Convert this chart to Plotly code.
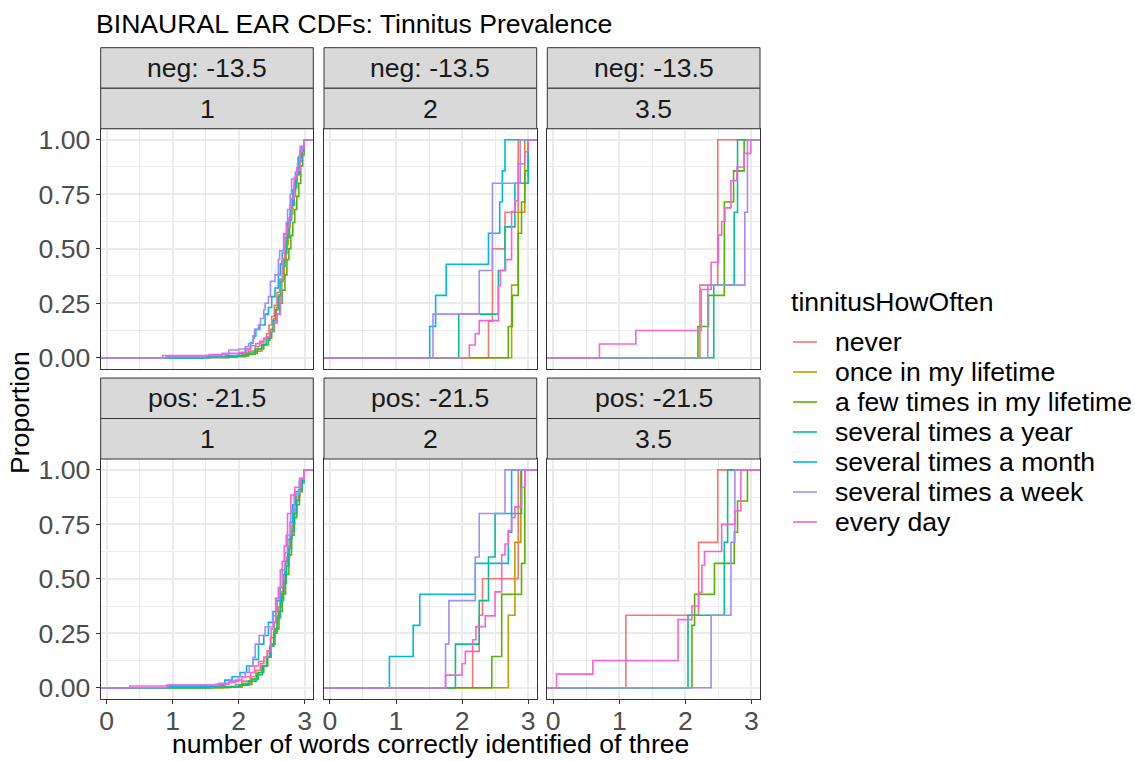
import plotly.graph_objects as go

W, H = 1135, 761
FONT = "Liberation Sans, Arial, sans-serif"
FS = 26.6

# ---------------- data ----------------
groups = ["never", "once in my lifetime", "a few times in my lifetime",
          "several times a year", "several times a month",
          "several times a week", "every day"]
colors = ["#F8766D", "#C49A00", "#53B400", "#00C094", "#00B6EB", "#A58AFF", "#FB61D7"]

row_labels = ["neg: -13.5", "pos: -21.5"]
col_labels = ["1", "2", "3.5"]
x_ticks = [0, 1, 2, 3]
y_ticks = [0, 0.25, 0.5, 0.75, 1.0]
y_tick_text = ["0.00", "0.25", "0.50", "0.75", "1.00"]

# ECDF step positions (x) and cumulative proportions (p)
# ---- neg: -13.5 / 1 ----
neg1_never_x = [1.55, 1.90, 2.05, 2.15, 2.25, 2.32, 2.38, 2.42, 2.46, 2.50, 2.54, 2.58, 2.62, 2.66, 2.70, 2.73, 2.76, 2.80, 2.84, 2.88, 2.92, 2.96, 2.99]
neg1_never_p = [0.003, 0.008, 0.015, 0.03, 0.05, 0.07, 0.09, 0.11, 0.15, 0.19, 0.24, 0.30, 0.36, 0.44, 0.50, 0.57, 0.64, 0.72, 0.80, 0.87, 0.93, 0.97, 1.0]
neg1_once_x = [1.85, 2.10, 2.25, 2.35, 2.42, 2.48, 2.53, 2.57, 2.61, 2.65, 2.69, 2.72, 2.75, 2.78, 2.82, 2.86, 2.89, 2.93, 2.96, 2.99]
neg1_once_p = [0.005, 0.015, 0.03, 0.06, 0.09, 0.13, 0.18, 0.23, 0.29, 0.36, 0.45, 0.52, 0.60, 0.66, 0.74, 0.82, 0.86, 0.92, 0.95, 1.0]
neg1_few_x = [1.50, 1.95, 2.15, 2.28, 2.38, 2.45, 2.50, 2.54, 2.58, 2.62, 2.66, 2.70, 2.73, 2.76, 2.79, 2.82, 2.85, 2.88, 2.91, 2.94, 2.97, 2.99]
neg1_few_p = [0.003, 0.008, 0.02, 0.04, 0.06, 0.09, 0.12, 0.16, 0.20, 0.25, 0.31, 0.38, 0.45, 0.50, 0.56, 0.62, 0.68, 0.74, 0.80, 0.88, 0.93, 1.0]
neg1_year_x = [1.50, 1.98, 2.12, 2.25, 2.35, 2.42, 2.47, 2.52, 2.56, 2.60, 2.64, 2.67, 2.70, 2.73, 2.77, 2.80, 2.84, 2.88, 2.92, 2.96, 2.99]
neg1_year_p = [0.004, 0.01, 0.02, 0.04, 0.06, 0.08, 0.12, 0.17, 0.22, 0.28, 0.35, 0.42, 0.48, 0.55, 0.63, 0.70, 0.78, 0.84, 0.90, 0.95, 1.0]
neg1_month_x = [1.57, 1.80, 2.00, 2.10, 2.18, 2.22, 2.26, 2.32, 2.40, 2.45, 2.50, 2.55, 2.60, 2.63, 2.66, 2.70, 2.74, 2.78, 2.82, 2.86, 2.90, 2.94, 2.99]
neg1_month_p = [0.005, 0.01, 0.02, 0.04, 0.07, 0.10, 0.13, 0.15, 0.20, 0.23, 0.28, 0.32, 0.38, 0.43, 0.48, 0.55, 0.62, 0.70, 0.77, 0.85, 0.92, 0.96, 1.0]
neg1_week_x = [0.90, 1.50, 1.75, 1.85, 2.00, 2.10, 2.15, 2.22, 2.24, 2.30, 2.33, 2.38, 2.40, 2.45, 2.48, 2.55, 2.60, 2.62, 2.68, 2.72, 2.74, 2.78, 2.80, 2.86, 2.89, 2.93, 2.99]
neg1_week_p = [0.005, 0.01, 0.02, 0.035, 0.04, 0.05, 0.065, 0.09, 0.13, 0.15, 0.18, 0.22, 0.25, 0.28, 0.35, 0.38, 0.45, 0.49, 0.57, 0.62, 0.68, 0.75, 0.82, 0.84, 0.89, 0.97, 1.0]
neg1_daily_x = [0.85, 1.55, 1.85, 2.00, 2.12, 2.18, 2.26, 2.32, 2.38, 2.42, 2.47, 2.53, 2.58, 2.63, 2.65, 2.67, 2.70, 2.73, 2.77, 2.80, 2.84, 2.88, 2.93, 2.96, 2.99]
neg1_daily_p = [0.01, 0.015, 0.02, 0.025, 0.04, 0.055, 0.065, 0.075, 0.085, 0.096, 0.12, 0.16, 0.20, 0.27, 0.36, 0.455, 0.566, 0.60, 0.64, 0.73, 0.826, 0.86, 0.945, 0.96, 1.0]

# ---- neg: -13.5 / 2 ----
neg2_never_x = [2.40, 2.46, 2.65, 2.85]
neg2_never_p = [0.167, 0.5, 0.667, 1.0]
neg2_once_x = [2.75, 2.85, 2.95]
neg2_once_p = [0.333, 0.667, 1.0]
neg2_few_x = [2.70, 2.76, 2.85, 2.90, 2.95, 3.00]
neg2_few_p = [0.143, 0.286, 0.571, 0.714, 0.857, 1.0]
neg2_year_x = [1.95, 2.55, 2.65, 2.80, 3.00]
neg2_year_p = [0.2, 0.4, 0.6, 0.8, 1.0]
neg2_month_x = [1.51, 1.60, 1.76, 2.40, 2.57, 2.61, 2.65]
neg2_month_p = [0.143, 0.286, 0.429, 0.571, 0.714, 0.857, 1.0]
neg2_week_x = [1.56, 2.26, 2.46, 2.88]
neg2_week_p = [0.2, 0.4, 0.8, 1.0]
neg2_daily_x = [2.11, 2.20, 2.26, 2.55, 2.58, 2.66, 2.75, 2.80, 2.85, 2.95, 3.00]
neg2_daily_p = [0.058, 0.11, 0.17, 0.33, 0.40, 0.45, 0.67, 0.72, 0.89, 0.945, 1.0]

# ---- neg: -13.5 / 3.5 ----
neg3_never_x = [2.22, 2.49]
neg3_never_p = [0.333, 1.0]
neg3_few_x = [2.19, 2.35, 2.59, 2.73, 2.89]
neg3_few_p = [0.143, 0.286, 0.714, 0.857, 1.0]
neg3_year_x = [2.43, 2.74, 2.79]
neg3_year_p = [0.333, 0.667, 1.0]
neg3_week_x = [2.34, 2.90, 2.94]
neg3_week_p = [0.333, 0.667, 1.0]
neg3_daily_x = [0.70, 1.25, 2.24, 2.39, 2.50, 2.55, 2.60, 2.69, 2.78, 2.89, 2.99]
neg3_daily_p = [0.0625, 0.125, 0.3125, 0.4375, 0.5625, 0.625, 0.6875, 0.8125, 0.875, 0.9375, 1.0]

# ---- pos: -21.5 / 1 ----
pos1_never_x = [1.57, 1.95, 2.05, 2.18, 2.26, 2.33, 2.38, 2.43, 2.48, 2.54, 2.60, 2.65, 2.69, 2.73, 2.77, 2.81, 2.85, 2.88, 2.93, 2.96, 2.99]
pos1_never_p = [0.003, 0.015, 0.03, 0.05, 0.08, 0.11, 0.14, 0.17, 0.23, 0.30, 0.37, 0.44, 0.52, 0.60, 0.68, 0.75, 0.82, 0.88, 0.93, 0.96, 1.0]
pos1_once_x = [1.85, 2.05, 2.18, 2.28, 2.35, 2.42, 2.47, 2.53, 2.58, 2.63, 2.67, 2.71, 2.75, 2.79, 2.83, 2.87, 2.91, 2.95, 2.99]
pos1_once_p = [0.005, 0.02, 0.04, 0.07, 0.10, 0.14, 0.19, 0.26, 0.33, 0.41, 0.49, 0.57, 0.65, 0.73, 0.80, 0.86, 0.91, 0.96, 1.0]
pos1_few_x = [1.77, 2.05, 2.20, 2.30, 2.38, 2.44, 2.49, 2.55, 2.61, 2.66, 2.71, 2.76, 2.80, 2.84, 2.88, 2.92, 2.96, 2.99]
pos1_few_p = [0.004, 0.015, 0.04, 0.07, 0.10, 0.14, 0.20, 0.27, 0.35, 0.43, 0.52, 0.61, 0.70, 0.78, 0.84, 0.90, 0.94, 1.0]
pos1_year_x = [1.60, 2.00, 2.15, 2.27, 2.36, 2.43, 2.48, 2.53, 2.58, 2.63, 2.68, 2.72, 2.76, 2.80, 2.84, 2.88, 2.92, 2.96, 2.99]
pos1_year_p = [0.003, 0.012, 0.03, 0.06, 0.10, 0.14, 0.19, 0.25, 0.32, 0.40, 0.48, 0.56, 0.64, 0.72, 0.80, 0.86, 0.91, 0.95, 1.0]
pos1_month_x = [0.92, 1.65, 1.79, 1.90, 2.02, 2.12, 2.22, 2.30, 2.38, 2.45, 2.52, 2.58, 2.63, 2.67, 2.70, 2.74, 2.78, 2.82, 2.86, 2.92, 2.99]
pos1_month_p = [0.005, 0.01, 0.035, 0.05, 0.07, 0.10, 0.13, 0.20, 0.24, 0.30, 0.35, 0.40, 0.46, 0.52, 0.58, 0.68, 0.76, 0.84, 0.90, 0.95, 1.0]
pos1_week_x = [0.91, 1.70, 1.85, 2.00, 2.10, 2.16, 2.22, 2.25, 2.31, 2.40, 2.52, 2.57, 2.62, 2.66, 2.70, 2.74, 2.79, 2.84, 2.92, 2.99]
pos1_week_p = [0.012, 0.02, 0.03, 0.05, 0.07, 0.10, 0.14, 0.20, 0.24, 0.28, 0.33, 0.41, 0.46, 0.54, 0.62, 0.70, 0.81, 0.89, 0.96, 1.0]
pos1_daily_x = [0.35, 0.95, 1.65, 1.85, 1.95, 2.05, 2.18, 2.24, 2.30, 2.38, 2.44, 2.49, 2.53, 2.56, 2.60, 2.63, 2.66, 2.69, 2.72, 2.74, 2.79, 2.85, 2.94, 2.99]
pos1_daily_p = [0.008, 0.012, 0.016, 0.025, 0.035, 0.05, 0.07, 0.10, 0.12, 0.14, 0.17, 0.27, 0.30, 0.41, 0.46, 0.54, 0.58, 0.65, 0.70, 0.80, 0.885, 0.92, 0.96, 1.0]

# ---- pos: -21.5 / 2 ----
pos2_never_x = [2.16, 2.26, 2.31, 2.85]
pos2_never_p = [0.167, 0.333, 0.5, 1.0]
pos2_once_x = [2.70, 2.80, 2.89]
pos2_once_p = [0.333, 0.667, 1.0]
pos2_few_x = [2.45, 2.60, 2.90, 2.95]
pos2_few_p = [0.143, 0.429, 0.571, 1.0]
pos2_year_x = [1.90, 2.26, 2.40, 2.50, 2.90]
pos2_year_p = [0.2, 0.4, 0.6, 0.8, 1.0]
pos2_month_x = [0.90, 1.26, 1.36, 2.20, 2.70, 2.75]
pos2_month_p = [0.143, 0.286, 0.429, 0.571, 0.714, 1.0]
pos2_week_x = [1.75, 1.80, 2.20, 2.26, 2.65]
pos2_week_p = [0.2, 0.4, 0.6, 0.8, 1.0]
pos2_daily_x = [1.75, 2.00, 2.05, 2.16, 2.21, 2.35, 2.50, 2.60, 2.65, 2.70, 2.75, 2.80, 2.90, 2.95]
pos2_daily_p = [0.058, 0.11, 0.167, 0.22, 0.28, 0.33, 0.44, 0.61, 0.66, 0.72, 0.78, 0.83, 0.92, 1.0]

# ---- pos: -21.5 / 3.5 ----
pos3_never_x = [1.10, 2.20, 2.49]
pos3_never_p = [0.333, 0.667, 1.0]
pos3_few_x = [2.10, 2.14, 2.44, 2.74, 2.79, 2.94]
pos3_few_p = [0.286, 0.429, 0.571, 0.714, 0.857, 1.0]
pos3_year_x = [2.04, 2.59, 2.64]
pos3_year_p = [0.333, 0.667, 1.0]
pos3_week_x = [2.39, 2.69, 2.75]
pos3_week_p = [0.333, 0.667, 1.0]
pos3_daily_x = [0.05, 0.60, 1.89, 2.10, 2.20, 2.25, 2.29, 2.55, 2.75, 2.84]
pos3_daily_p = [0.0625, 0.125, 0.3125, 0.375, 0.4375, 0.5625, 0.625, 0.75, 0.8125, 1.0]

panels = {
    (0, 0): {"never": (neg1_never_x, neg1_never_p), "once in my lifetime": (neg1_once_x, neg1_once_p),
             "a few times in my lifetime": (neg1_few_x, neg1_few_p), "several times a year": (neg1_year_x, neg1_year_p),
             "several times a month": (neg1_month_x, neg1_month_p), "several times a week": (neg1_week_x, neg1_week_p),
             "every day": (neg1_daily_x, neg1_daily_p)},
    (0, 1): {"never": (neg2_never_x, neg2_never_p), "once in my lifetime": (neg2_once_x, neg2_once_p),
             "a few times in my lifetime": (neg2_few_x, neg2_few_p), "several times a year": (neg2_year_x, neg2_year_p),
             "several times a month": (neg2_month_x, neg2_month_p), "several times a week": (neg2_week_x, neg2_week_p),
             "every day": (neg2_daily_x, neg2_daily_p)},
    (0, 2): {"never": (neg3_never_x, neg3_never_p),
             "a few times in my lifetime": (neg3_few_x, neg3_few_p), "several times a year": (neg3_year_x, neg3_year_p),
             "several times a week": (neg3_week_x, neg3_week_p), "every day": (neg3_daily_x, neg3_daily_p)},
    (1, 0): {"never": (pos1_never_x, pos1_never_p), "once in my lifetime": (pos1_once_x, pos1_once_p),
             "a few times in my lifetime": (pos1_few_x, pos1_few_p), "several times a year": (pos1_year_x, pos1_year_p),
             "several times a month": (pos1_month_x, pos1_month_p), "several times a week": (pos1_week_x, pos1_week_p),
             "every day": (pos1_daily_x, pos1_daily_p)},
    (1, 1): {"never": (pos2_never_x, pos2_never_p), "once in my lifetime": (pos2_once_x, pos2_once_p),
             "a few times in my lifetime": (pos2_few_x, pos2_few_p), "several times a year": (pos2_year_x, pos2_year_p),
             "several times a month": (pos2_month_x, pos2_month_p), "several times a week": (pos2_week_x, pos2_week_p),
             "every day": (pos2_daily_x, pos2_daily_p)},
    (1, 2): {"never": (pos3_never_x, pos3_never_p),
             "a few times in my lifetime": (pos3_few_x, pos3_few_p), "several times a year": (pos3_year_x, pos3_year_p),
             "several times a week": (pos3_week_x, pos3_week_p), "every day": (pos3_daily_x, pos3_daily_p)},
}

# ---------------- layout geometry (pixels) ----------------
col_px = [(100.7, 313.3), (324.0, 536.7), (547.3, 760.0)]
row_px = [(128.8, 368.6), (459.0, 698.6)]
strip_px = [(47.7, 128.8), (378.0, 459.0)]
X_RANGE = [-0.09, 3.13]
Y_RANGE = [-0.05, 1.05]


def px(x):
    return x / W


def py(y):
    return 1 - y / H


fig = go.Figure()
layout = dict(
    width=W, height=H, margin=dict(l=0, r=0, t=0, b=0),
    paper_bgcolor="white", plot_bgcolor="white", showlegend=False,
    font=dict(family=FONT, size=FS, color="black"),
)
shapes, annotations = [], []

for r in range(2):
    for c in range(3):
        k = r * 3 + c + 1
        sx = "" if k == 1 else str(k)
        data = panels[(r, c)]
        for g, col in zip(groups, colors):
            if g not in data:
                continue
            xs, ps = data[g]
            fig.add_trace(go.Scatter(
                x=[X_RANGE[0] - 1] + list(xs) + [X_RANGE[1] + 1],
                y=[0] + list(ps) + [1],
                mode="lines", name=g, showlegend=False,
                line=dict(color=col, width=1.6, shape="hv"),
                xaxis="x" + sx, yaxis="y" + sx, hoverinfo="skip"))
        x0, x1 = col_px[c]
        y0, y1 = row_px[r]
        layout["xaxis" + sx] = dict(
            domain=[px(x0), px(x1)], anchor="y" + sx, range=X_RANGE,
            tickvals=x_ticks, showticklabels=(r == 1),
            ticks="outside" if r == 1 else "", ticklen=4, tickwidth=1, tickcolor="#333333",
            ticklabelstandoff=-6,
            tickfont=dict(size=FS, color="#4D4D4D", family=FONT),
            showgrid=True, gridcolor="#EBEBEB", gridwidth=1.5,
            minor=dict(tickvals=[0.5, 1.5, 2.5], showgrid=True, gridcolor="#EBEBEB", gridwidth=0.8),
            zeroline=False, showline=True, mirror=True, linecolor="#333333", linewidth=1,
            automargin=False, fixedrange=True)
        layout["yaxis" + sx] = dict(
            domain=[py(y1), py(y0)], anchor="x" + sx, range=Y_RANGE,
            tickvals=y_ticks, ticktext=y_tick_text, showticklabels=(c == 0),
            ticks="outside" if c == 0 else "", ticklen=4, tickwidth=1, tickcolor="#333333",
            tickfont=dict(size=FS, color="#4D4D4D", family=FONT),
            showgrid=True, gridcolor="#EBEBEB", gridwidth=1.5,
            minor=dict(tickvals=[0.125, 0.375, 0.625, 0.875], showgrid=True, gridcolor="#EBEBEB", gridwidth=0.8),
            zeroline=False, showline=True, mirror=True, linecolor="#333333", linewidth=1,
            automargin=False, fixedrange=True)
        # strips
        s0, s1 = strip_px[r]
        smid = (s0 + s1) / 2
        for (ya, yb, txt) in [(s0, smid, row_labels[r]), (smid, s1, col_labels[c])]:
            shapes.append(dict(type="rect", xref="paper", yref="paper",
                               x0=px(x0), x1=px(x1), y0=py(yb), y1=py(ya),
                               fillcolor="#D9D9D9", line=dict(color="#333333", width=1)))
            annotations.append(dict(text=txt, xref="paper", yref="paper",
                                     x=px((x0 + x1) / 2), y=py((ya + yb) / 2),
                                     xanchor="center", yanchor="middle", showarrow=False,
                                     font=dict(size=FS, color="#1A1A1A", family=FONT)))

# title and axis titles
annotations.append(dict(text="BINAURAL EAR CDFs: Tinnitus Prevalence", xref="paper", yref="paper",
                        x=px(94), y=py(24), xanchor="left", yanchor="middle", showarrow=False,
                        font=dict(size=FS, color="black", family=FONT)))
annotations.append(dict(text="number of words correctly identified of three", xref="paper", yref="paper",
                        x=px((col_px[0][0] + col_px[2][1]) / 2), y=0, xanchor="center", yanchor="bottom",
                        showarrow=False, font=dict(size=FS, color="black", family=FONT)))
annotations.append(dict(text="Proportion", xref="paper", yref="paper", textangle=-90,
                        x=px(20), y=py(413), xanchor="center", yanchor="middle",
                        showarrow=False, font=dict(size=FS, color="black", family=FONT)))

# legend (drawn as keys + text)
annotations.append(dict(text="tinnitusHowOften", xref="paper", yref="paper",
                        x=px(789), y=py(302), xanchor="left", yanchor="middle", showarrow=False,
                        font=dict(size=FS, color="black", family=FONT)))
for i, (g, col) in enumerate(zip(groups, colors)):
    yc = 342 + 30 * i
    shapes.append(dict(type="line", xref="paper", yref="paper",
                       x0=px(793), x1=px(817), y0=py(yc), y1=py(yc),
                       line=dict(color=col, width=1.6)))
    annotations.append(dict(text=g, xref="paper", yref="paper",
                            x=px(833), y=py(yc), xanchor="left", yanchor="middle", showarrow=False,
                            font=dict(size=FS, color="black", family=FONT)))

layout["shapes"] = shapes
layout["annotations"] = annotations
fig.update_layout(**layout)
fig.write_html("out.html")
